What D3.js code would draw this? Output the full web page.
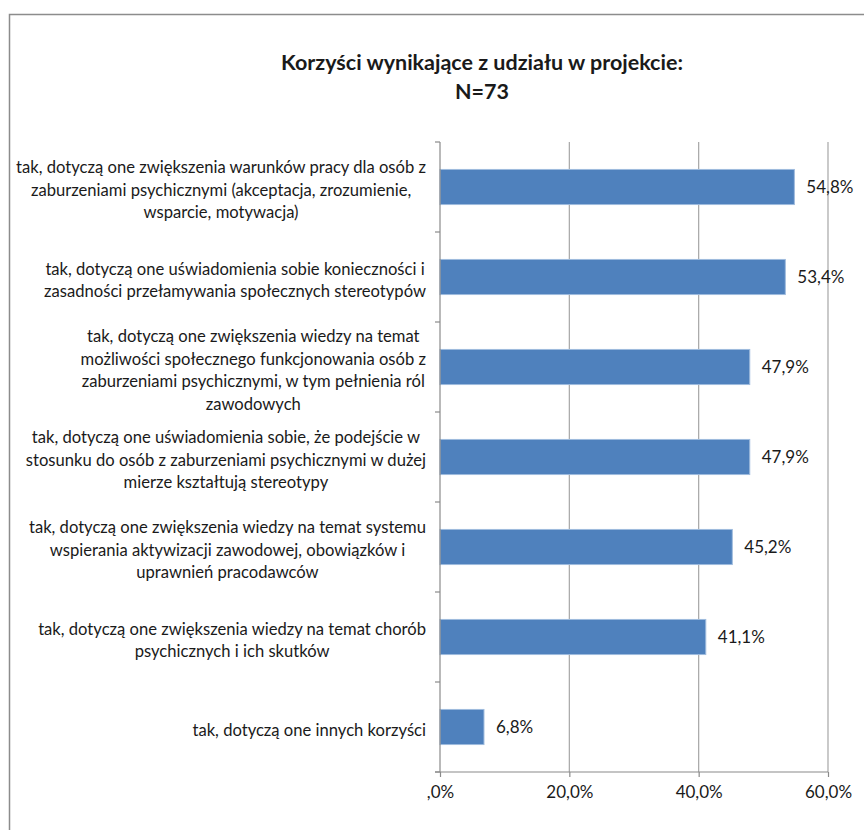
<!DOCTYPE html>
<html>
<head>
<meta charset="utf-8">
<script src="https://cdn.jsdelivr.net/npm/d3@7/dist/d3.min.js"></script>
<style>
  html, body { margin: 0; padding: 0; background: #fff; }
  svg { display: block; }
  text { font-family: Lato, "Open Sans", sans-serif; fill: #1a1a1a; }
</style>
</head>
<body>
<svg id="chart" width="864" height="830"></svg>
<script>
// Survey answers: benefits of taking part in the project (N=73)
const categories = [
  "tak, dotyczą one zwiększenia warunków pracy dla osób z\nzaburzeniami psychicznymi (akceptacja, zrozumienie,\nwsparcie, motywacja)",
  "tak, dotyczą one uświadomienia sobie konieczności i\nzasadności przełamywania społecznych stereotypów",
  "tak, dotyczą one zwiększenia wiedzy na temat\nmożliwości społecznego funkcjonowania osób  z\nzaburzeniami psychicznymi, w tym pełnienia ról\nzawodowych",
  "tak, dotyczą one uświadomienia sobie, że podejście w\nstosunku do osób z zaburzeniami psychicznymi w dużej\nmierze kształtują stereotypy",
  "tak, dotyczą one zwiększenia wiedzy na temat systemu\nwspierania aktywizacji zawodowej, obowiązków i\nuprawnień pracodawców",
  "tak, dotyczą one zwiększenia wiedzy na temat chorób\npsychicznych i ich skutków",
  "tak, dotyczą one innych korzyści"
];
const values = [54.8, 53.4, 47.9, 47.9, 45.2, 41.1, 6.8];
const xTicks = [0, 20, 40, 60];
const titleLines = ["Korzyści wynikające z udziału w projekcie:", "N=73"];

const fmtPct = v => (v === 0 ? ",0" : v.toFixed(1).replace(".", ",")) + "%";

const svg = d3.select("#chart");

// outer chart frame
svg.append("rect")
  .attr("x", 9.5).attr("y", 14.5)
  .attr("width", 900).attr("height", 900)
  .attr("fill", "none").attr("stroke", "#8c8c8c").attr("stroke-width", 1.5);

const x = d3.scaleLinear().domain([0, 60]).range([440, 828]);
const y = d3.scaleBand().domain(categories).range([142, 772])
  .paddingInner(0.61).paddingOuter(0.305);
const step = y.step();

// title
svg.append("g").selectAll("text").data(titleLines).join("text")
  .attr("x", 482).attr("y", (d, i) => 70 + i * 29)
  .attr("text-anchor", "middle")
  .style("font-family", "Lato, 'Open Sans', sans-serif")
  .style("font-weight", "bold").style("font-size", "21.5px")
  .attr("fill", "#000")
  .text(d => d);

// vertical gridlines
svg.append("g").selectAll("line").data(xTicks.filter(t => t > 0)).join("line")
  .attr("x1", d => x(d)).attr("x2", d => x(d))
  .attr("y1", 142).attr("y2", 772)
  .attr("stroke", "#a6a6a6").attr("stroke-width", 1.2);

// bars
svg.append("g").selectAll("rect").data(categories).join("rect")
  .attr("x", x(0))
  .attr("y", d => y(d))
  .attr("width", (d, i) => x(values[i]) - x(0))
  .attr("height", y.bandwidth())
  .attr("fill", "#4f81bd")
  .attr("stroke", "#9fbbdd").attr("stroke-width", 1);

// value labels
svg.append("g").selectAll("text").data(categories).join("text")
  .attr("x", (d, i) => x(values[i]) + 12)
  .attr("y", d => y(d) + y.bandwidth() / 2)
  .attr("dy", "0.35em")
  .style("font-size", "17px")
  .text((d, i) => fmtPct(values[i]));

// y axis line and boundary ticks
const axisColor = "#8a8a8a";
svg.append("line")
  .attr("x1", x(0)).attr("x2", x(0)).attr("y1", 142).attr("y2", 772)
  .attr("stroke", axisColor).attr("stroke-width", 1.2);
const bounds = d3.range(categories.length + 1).map(i => 142 + i * step);
svg.append("g").selectAll("line").data(bounds).join("line")
  .attr("x1", x(0) - 5).attr("x2", x(0))
  .attr("y1", d => d).attr("y2", d => d)
  .attr("stroke", axisColor).attr("stroke-width", 1.2);

// x axis
const xAxis = d3.axisBottom(x).tickValues(xTicks).tickSize(5).tickPadding(9)
  .tickFormat(fmtPct);
const gx = svg.append("g").attr("transform", "translate(0,772)").call(xAxis);
gx.select(".domain").remove();
gx.append("line").attr("x1", x(0) - 5).attr("x2", x(60))
  .attr("stroke", axisColor).attr("stroke-width", 1.2);
gx.selectAll(".tick line").attr("stroke", axisColor).attr("stroke-width", 1.2);
gx.selectAll(".tick text")
  .style("font-family", "Lato, 'Open Sans', sans-serif")
  .style("font-size", "17px").attr("fill", "#1a1a1a");

// category labels: each block right-aligned to the axis, lines centred within it
const labelRight = 426;
const lineH = 22.5;
const gl = svg.append("g");
categories.forEach(c => {
  const lines = c.split("\n");
  const g = gl.append("g");
  const texts = g.selectAll("text").data(lines).join("text")
    .style("font-size", "16.6px")
    .attr("text-anchor", "middle")
    .attr("y", (d, i) => y(c) + y.bandwidth() / 2 + (i - (lines.length - 1) / 2) * lineH + 3)
    .attr("dy", "0.35em")
    .text(d => d);
  let w = 0;
  texts.each(function () { w = Math.max(w, this.getComputedTextLength()); });
  texts.attr("x", labelRight - w / 2);
});
</script>
</body>
</html>
